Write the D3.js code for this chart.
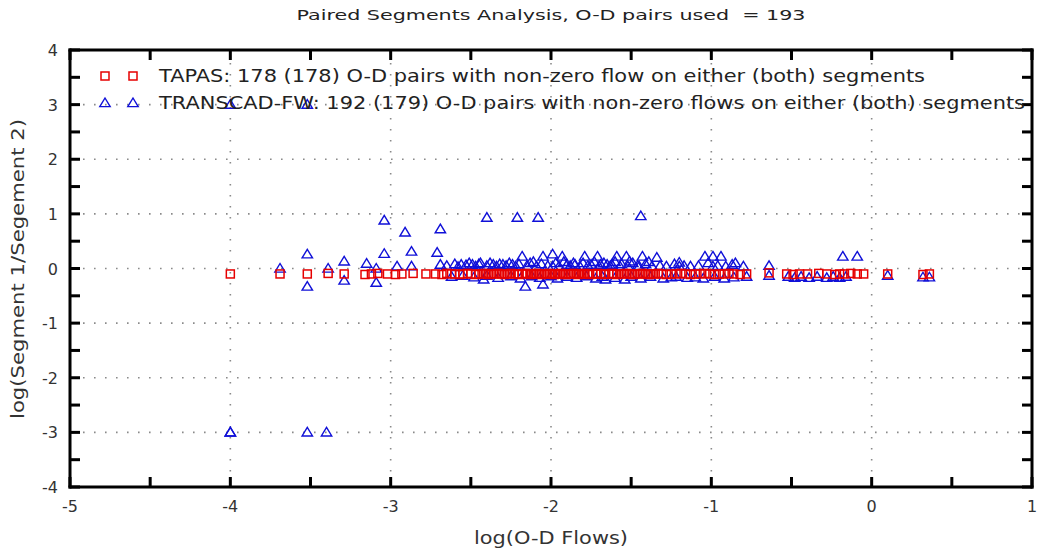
<!DOCTYPE html>
<html>
<head>
<meta charset="utf-8">
<script src="https://cdn.jsdelivr.net/npm/d3@7"></script>
<style>
  body { margin: 0; background: #fff; }
  text { font-family: "DejaVu Sans", Verdana, sans-serif; white-space: pre; }
</style>
</head>
<body>
<svg id="chart" width="1037" height="552"></svg>
<script>
const titleText = "Paired Segments Analysis, O-D pairs used  = 193";
const xLabel = "log(O-D Flows)";
const yLabel = "log(Segment 1/Segement 2)";
const xTicks = [-5, -4, -3, -2, -1, 0, 1];
const yTicks = [-4, -3, -2, -1, 0, 1, 2, 3, 4];
const xMinorTicks = [-5, -4.5, -4, -3.5, -3, -2.5, -2, -1.5, -1, -0.5, 0, 0.5, 1];
const yMinorTicks = [-4, -3.5, -3, -2.5, -2, -1.5, -1, -0.5, 0, 0.5, 1, 1.5, 2, 2.5, 3, 3.5, 4];
const legendLabels = [
  "TAPAS: 178 (178) O-D pairs with non-zero flow on either (both) segments",
  "TRANSCAD-FW: 192 (179) O-D pairs with non-zero flows on either (both) segments"
];

// TAPAS (red squares)
const tapasX = [-4.0, -3.69, -3.52, -3.39, -3.29, -3.16, -3.12, -3.08, -3.02, -2.97, -2.93, -2.86, -2.78, -2.72, -2.68, -2.65, -2.62, -2.6, -2.57, -2.55, -2.52, -2.5, -2.47, -2.45, -2.43, -2.41, -2.39, -2.37, -2.35, -2.33, -2.31, -2.29, -2.27, -2.25, -2.23, -2.21, -2.2, -2.18, -2.16, -2.15, -2.13, -2.12, -2.1, -2.09, -2.07, -2.06, -2.04, -2.03, -2.01, -2.0, -1.98, -1.97, -1.95, -1.94, -1.92, -1.91, -1.89, -1.88, -1.86, -1.85, -1.83, -1.82, -1.8, -1.79, -1.77, -1.76, -1.74, -1.72, -1.71, -1.69, -1.67, -1.66, -1.64, -1.62, -1.61, -1.59, -1.57, -1.55, -1.53, -1.51, -1.49, -1.47, -1.45, -1.43, -1.41, -1.39, -1.37, -1.35, -1.33, -1.31, -1.28, -1.25, -1.22, -1.19, -1.16, -1.13, -1.1, -1.07, -1.04, -1.01, -0.98, -0.95, -0.92, -0.89, -0.86, -0.82, -0.78, -0.64, -0.53, -0.49, -0.45, -0.4, -0.33, -0.28, -0.23, -0.2, -0.17, -0.13, -0.09, -0.05, 0.1, 0.32, 0.36];
const tapasY = [-0.1, -0.1, -0.1, -0.09, -0.1, -0.11, -0.1, -0.09, -0.1, -0.11, -0.1, -0.09, -0.1, -0.1, -0.11, -0.09, -0.1, -0.1, -0.11, -0.1, -0.09, -0.1, -0.11, -0.1, -0.1, -0.09, -0.11, -0.1, -0.1, -0.09, -0.1, -0.11, -0.1, -0.09, -0.1, -0.1, -0.11, -0.1, -0.09, -0.1, -0.11, -0.1, -0.1, -0.09, -0.1, -0.11, -0.1, -0.1, -0.09, -0.1, -0.11, -0.1, -0.1, -0.09, -0.1, -0.11, -0.1, -0.1, -0.09, -0.1, -0.11, -0.1, -0.1, -0.09, -0.1, -0.11, -0.1, -0.1, -0.09, -0.1, -0.11, -0.1, -0.1, -0.09, -0.1, -0.11, -0.1, -0.1, -0.09, -0.1, -0.11, -0.1, -0.1, -0.09, -0.1, -0.11, -0.1, -0.1, -0.09, -0.1, -0.11, -0.1, -0.1, -0.09, -0.1, -0.11, -0.1, -0.1, -0.09, -0.1, -0.11, -0.1, -0.1, -0.09, -0.1, -0.11, -0.1, -0.08, -0.1, -0.11, -0.1, -0.1, -0.09, -0.1, -0.11, -0.1, -0.1, -0.09, -0.1, -0.1, -0.1, -0.11, -0.1];

// TRANSCAD-FW (blue triangles)
const transX = [-4.0, -3.52, -4.0, -4.0, -3.52, -3.4,
  -3.04, -2.91, -2.69, -2.4, -2.21, -2.08, -1.44,
  -3.52, -3.52, -3.29, -3.29, -3.15, -3.09, -3.04, -3.09, -2.96, -2.87, -2.87, -2.71, -2.69, -3.69, -3.39, -2.56, -2.49, -2.44, -2.42, -2.36, -2.3, -2.24, -2.18, -2.16, -2.13, -2.05, -2.05, -1.99, -1.93, -1.99, -1.9, -1.85, -1.79, -1.71, -1.75, -1.69, -1.65, -1.59, -1.53, -1.62, -1.57, -1.66, -1.54, -1.51, -1.43, -1.34, -1.37, -1.45, -1.25, -1.2, -1.2, -1.04, -0.99, -0.94, -0.99, -0.87, -0.64, -0.18, -0.09,
  -2.65, -2.6, -2.58, -2.53, -2.51, -2.47, -2.45, -2.4, -2.38, -2.34, -2.32, -2.28, -2.26, -2.22, -2.2, -2.15, -2.11, -2.09, -2.06, -2.02, -1.97, -1.95, -1.92, -1.88, -1.86, -1.82, -1.8, -1.77, -1.73, -1.7, -1.67, -1.63, -1.6, -1.56, -1.52, -1.49, -1.46, -1.41, -1.39, -1.32, -1.28, -1.23, -1.17, -1.13, -1.08, -1.02, -0.96, -0.91, -0.85, -0.8,
  -2.62, -2.55, -2.48, -2.4, -2.33, -2.25, -2.19, -2.12, -2.07, -2.0, -1.96, -1.9, -1.84, -1.78, -1.72, -1.68, -1.6, -1.5, -1.44, -1.38, -1.3, -1.22, -1.15, -1.1, -1.05, -0.98, -0.92, -0.86, -0.78, -0.64, -0.52, -0.48, -0.44, -0.39, -0.34, -0.28, -0.24, -0.2, -0.16, 0.1, 0.32, 0.36];
const transY = [3.0, 3.0, -3.0, -3.0, -3.0, -3.0,
  0.88, 0.66, 0.72, 0.93, 0.93, 0.93, 0.96,
  0.26, -0.33, 0.13, -0.22, 0.09, -0.26, 0.27, 0.0, 0.04, 0.31, 0.04, 0.29, 0.07, 0.0, 0.0, 0.07, 0.07, 0.1, -0.2, 0.07, 0.07, 0.07, 0.22, -0.33, 0.1, 0.22, -0.29, 0.26, 0.22, 0.04, 0.07, 0.07, 0.22, 0.22, 0.07, 0.07, 0.07, 0.22, 0.22, 0.07, 0.04, -0.2, -0.2, 0.13, 0.22, 0.2, 0.04, 0.04, -0.16, 0.11, 0.04, 0.22, 0.22, 0.22, 0.04, 0.07, 0.05, 0.22, 0.22,
  0.05, 0.08, 0.03, 0.06, 0.1, 0.04, 0.08, 0.05, 0.1, 0.04, 0.08, 0.05, 0.1, 0.04, 0.08, 0.05, 0.12, 0.04, 0.08, 0.05, 0.1, 0.04, 0.12, 0.05, 0.1, 0.04, 0.1, 0.05, 0.12, 0.04, 0.1, 0.05, 0.12, 0.08, 0.04, 0.1, 0.05, 0.08, 0.12, 0.05, 0.04, 0.08, 0.05, 0.04, 0.05, 0.1, 0.05, 0.04, 0.1, 0.04,
  -0.15, -0.13, -0.16, -0.13, -0.17, -0.14, -0.18, -0.14, -0.17, -0.14, -0.18, -0.15, -0.17, -0.14, -0.18, -0.15, -0.17, -0.15, -0.18, -0.15, -0.18, -0.15, -0.17, -0.16, -0.18, -0.15, -0.18, -0.16, -0.15, -0.13, -0.15, -0.17, -0.15, -0.17, -0.15, -0.17, -0.15, -0.17, -0.15, -0.13, -0.16, -0.16];

const red = "#e60000";
const blue = "#1010d8";

const svg = d3.select("#chart");
const L = 70, R = 1032, T = 50, B = 487;
const x = d3.scaleLinear().domain([-5, 1]).range([L, R]);
const y = d3.scaleLinear().domain([-4, 4]).range([B, T]);

// grid
const gridX = xTicks.filter(v => v > -5 && v < 1);
const gridY = yTicks.filter(v => v > -4 && v < 4);
const grid = svg.append("g");
grid.selectAll("line.gx").data(gridX).enter().append("line")
  .attr("x1", d => x(d)).attr("x2", d => x(d)).attr("y1", T + 2).attr("y2", B - 2)
  .attr("stroke", "#8a8a8a").attr("stroke-width", 1.6).attr("stroke-dasharray", "1.6,9.4");
grid.selectAll("line.gy").data(gridY).enter().append("line")
  .attr("y1", d => y(d)).attr("y2", d => y(d)).attr("x1", L + 2).attr("x2", R - 2)
  .attr("stroke", "#8a8a8a").attr("stroke-width", 1.6).attr("stroke-dasharray", "1.6,9.4");

// markers
const triPath = "M0,-5L5.2,3.6L-5.2,3.6Z";
const plot = svg.append("g");
plot.selectAll("path.tri").data(transX.map((v, i) => [v, transY[i]])).enter().append("path")
  .attr("d", triPath)
  .attr("transform", d => `translate(${x(d[0])},${y(d[1])})`)
  .attr("fill", "none").attr("stroke", blue).attr("stroke-width", 1.4);
plot.selectAll("rect.sq").data(tapasX.map((v, i) => [v, tapasY[i]])).enter().append("rect")
  .attr("x", d => x(d[0]) - 4).attr("y", d => y(d[1]) - 4)
  .attr("width", 8).attr("height", 8)
  .attr("fill", "none").attr("stroke", red).attr("stroke-width", 1.5);

// frame + inward ticks every 0.5 on all four sides
const tickLen = 10, tickW = 3;
const tk = svg.append("g").attr("fill", "#000");
tk.selectAll("rect.tb").data(xMinorTicks).enter().append("rect")
  .attr("x", d => x(d) - tickW / 2).attr("y", B - tickLen).attr("width", tickW).attr("height", tickLen);
tk.selectAll("rect.tt").data(xMinorTicks).enter().append("rect")
  .attr("x", d => x(d) - tickW / 2).attr("y", T).attr("width", tickW).attr("height", tickLen);
tk.selectAll("rect.tl").data(yMinorTicks).enter().append("rect")
  .attr("x", L).attr("y", d => y(d) - tickW / 2).attr("width", tickLen).attr("height", tickW);
tk.selectAll("rect.tr").data(yMinorTicks).enter().append("rect")
  .attr("x", R - tickLen).attr("y", d => y(d) - tickW / 2).attr("width", tickLen).attr("height", tickW);
const fw = 3;
tk.append("rect").attr("x", L - fw / 2).attr("y", T - fw / 2).attr("width", R - L + fw).attr("height", fw);
tk.append("rect").attr("x", L - fw / 2).attr("y", B - fw / 2).attr("width", R - L + fw).attr("height", fw);
tk.append("rect").attr("x", L - fw / 2).attr("y", T - fw / 2).attr("width", fw).attr("height", B - T + fw);
tk.append("rect").attr("x", R - fw / 2).attr("y", T - fw / 2).attr("width", fw).attr("height", B - T + fw);

// tick labels
svg.append("g").selectAll("text").data(xTicks).enter().append("text")
  .attr("x", d => x(d)).attr("y", 512).attr("text-anchor", "middle")
  .attr("font-size", 16).attr("fill", "#333").text(d => d);
svg.append("g").selectAll("text").data(yTicks).enter().append("text")
  .attr("x", 58).attr("y", d => y(d) + 6).attr("text-anchor", "end")
  .attr("font-size", 16).attr("fill", "#333").text(d => d);

// title
svg.append("text").attr("x", 551).attr("y", 20).attr("text-anchor", "middle")
  .attr("font-size", 14).attr("fill", "#222")
  .attr("textLength", 509).attr("lengthAdjust", "spacingAndGlyphs").text(titleText);

// axis labels
svg.append("text").attr("x", 551).attr("y", 544).attr("text-anchor", "middle")
  .attr("font-size", 17).attr("fill", "#333")
  .attr("textLength", 154).attr("lengthAdjust", "spacingAndGlyphs").text(xLabel);
svg.append("text").attr("transform", "translate(24,269) rotate(-90)").attr("text-anchor", "middle")
  .attr("font-size", 17).attr("fill", "#333")
  .attr("textLength", 300).attr("lengthAdjust", "spacingAndGlyphs").text(yLabel);

// legend
const legY = [76, 103];
const lg = svg.append("g");
[105, 133].forEach(px => {
  lg.append("rect").attr("x", px - 4).attr("y", legY[0] - 4).attr("width", 8).attr("height", 8)
    .attr("fill", "none").attr("stroke", red).attr("stroke-width", 1.5);
  lg.append("path").attr("d", triPath).attr("transform", `translate(${px},${legY[1]})`)
    .attr("fill", "none").attr("stroke", blue).attr("stroke-width", 1.4);
});
lg.append("text").attr("x", 159).attr("y", legY[0] + 6).attr("font-size", 17)
  .attr("fill", "#222").attr("textLength", 766).attr("lengthAdjust", "spacingAndGlyphs").text(legendLabels[0]);
lg.append("text").attr("x", 159).attr("y", legY[1] + 6).attr("font-size", 17)
  .attr("fill", "#222").attr("textLength", 866).attr("lengthAdjust", "spacingAndGlyphs").text(legendLabels[1]);
</script>
</body>
</html>
